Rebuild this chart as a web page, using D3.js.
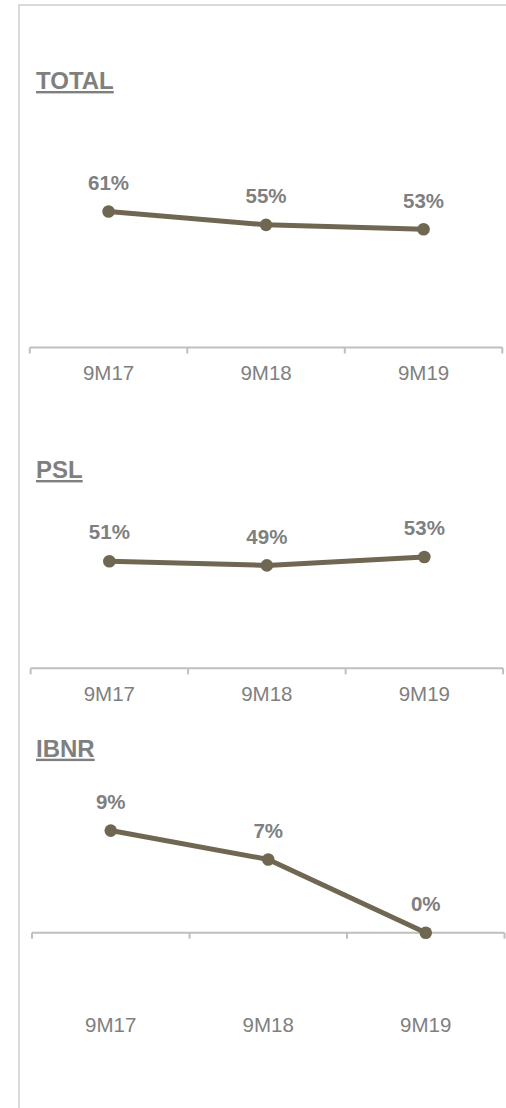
<!DOCTYPE html>
<html><head><meta charset="utf-8">
<script src="https://cdn.jsdelivr.net/npm/d3@7"></script>
<style>
html,body{margin:0;padding:0;background:#fff;}
svg{display:block;font-family:"Liberation Sans",Arial,sans-serif;}
</style>
</head><body>
<svg id="c" width="506" height="1108"></svg>
<script>
// ---- data ----
const categories = ["9M17", "9M18", "9M19"];
const panelTitles = ["TOTAL", "PSL", "IBNR"];
const totalValues = [61, 55, 53];
const pslValues = [51, 49, 53];
const ibnrValues = [9.2, 6.6, 0];

// ---- layout (styles / positions only) ----
const LINE_COLOR = "#706753";
const TEXT_COLOR = "#7f7f7f";
const AXIS_COLOR = "#bfbfbf";
const FRAME_COLOR = "#d9d9d9";

const panels = [
  {title: panelTitles[0], values: totalValues, titleY: 89,
   xRange: [29.8, 502.3], yDomain: [0, 70], zeroY: 347.5, ppu: 2.23},
  {title: panelTitles[1], values: pslValues, titleY: 478,
   xRange: [30.6, 503.1], yDomain: [0, 60], zeroY: 668.3, ppu: 2.1},
  {title: panelTitles[2], values: ibnrValues, titleY: 756.7,
   xRange: [32, 504.5], yDomain: [-6, 10], zeroY: 932.7, ppu: 11.1}
];

const svg = d3.select("#c");

// frame (top and left edges)
svg.append("line").attr("x1", 19).attr("x2", 506).attr("y1", 5).attr("y2", 5)
  .attr("stroke", FRAME_COLOR).attr("stroke-width", 2);
svg.append("line").attr("x1", 19).attr("x2", 19).attr("y1", 4).attr("y2", 1108)
  .attr("stroke", FRAME_COLOR).attr("stroke-width", 2);

panels.forEach(p => {
  const g = svg.append("g");
  const x = d3.scaleBand().domain(categories).range(p.xRange);
  const yTop = p.zeroY - (p.yDomain[1]) * p.ppu;
  const yBot = p.zeroY - (p.yDomain[0]) * p.ppu;
  const y = d3.scaleLinear().domain(p.yDomain).range([yBot, yTop]);
  const cx = c => x(c) + x.bandwidth() / 2;

  // title
  g.append("text").attr("x", 36).attr("y", p.titleY)
    .attr("font-size", 24).attr("font-weight", "bold")
    .attr("fill", TEXT_COLOR)
    .style("text-decoration", "underline")
    .text(p.title);

  // horizontal axis line at zero with boundary ticks
  const y0 = y(0);
  g.append("line").attr("x1", p.xRange[0]).attr("x2", p.xRange[1])
    .attr("y1", y0).attr("y2", y0)
    .attr("stroke", AXIS_COLOR).attr("stroke-width", 2);
  const bounds = d3.range(categories.length + 1).map(i => p.xRange[0] + i * x.step());
  g.selectAll(".tk").data(bounds).join("line")
    .attr("x1", d => d).attr("x2", d => d)
    .attr("y1", y0).attr("y2", y0 + 6)
    .attr("stroke", AXIS_COLOR).attr("stroke-width", 2);

  // category labels (at the bottom of the plot area)
  const ax = g.append("g")
    .attr("transform", `translate(0,${y(p.yDomain[0])})`)
    .call(d3.axisBottom(x).tickSize(0).tickPadding(17.9));
  ax.select(".domain").remove();
  ax.attr("font-family", null).attr("font-size", null);
  ax.selectAll("text").attr("font-size", 20.5).attr("fill", TEXT_COLOR);

  // line
  const pts = categories.map((c, i) => [cx(c), y(p.values[i])]);
  g.append("path")
    .attr("d", d3.line()(pts))
    .attr("fill", "none").attr("stroke", LINE_COLOR)
    .attr("stroke-width", 5).attr("stroke-linejoin", "round");
  g.selectAll(".pt").data(categories).join("circle")
    .attr("cx", c => cx(c)).attr("cy", (c, i) => y(p.values[i]))
    .attr("r", 6.3).attr("fill", LINE_COLOR);

  // data labels
  g.selectAll(".lbl").data(categories).join("text")
    .attr("x", c => cx(c)).attr("y", (c, i) => y(p.values[i]) - 21.8)
    .attr("text-anchor", "middle").attr("font-size", 20.5)
    .attr("font-weight", "bold").attr("fill", TEXT_COLOR)
    .text((c, i) => Math.round(p.values[i]) + "%");
});
</script>
</body></html>
